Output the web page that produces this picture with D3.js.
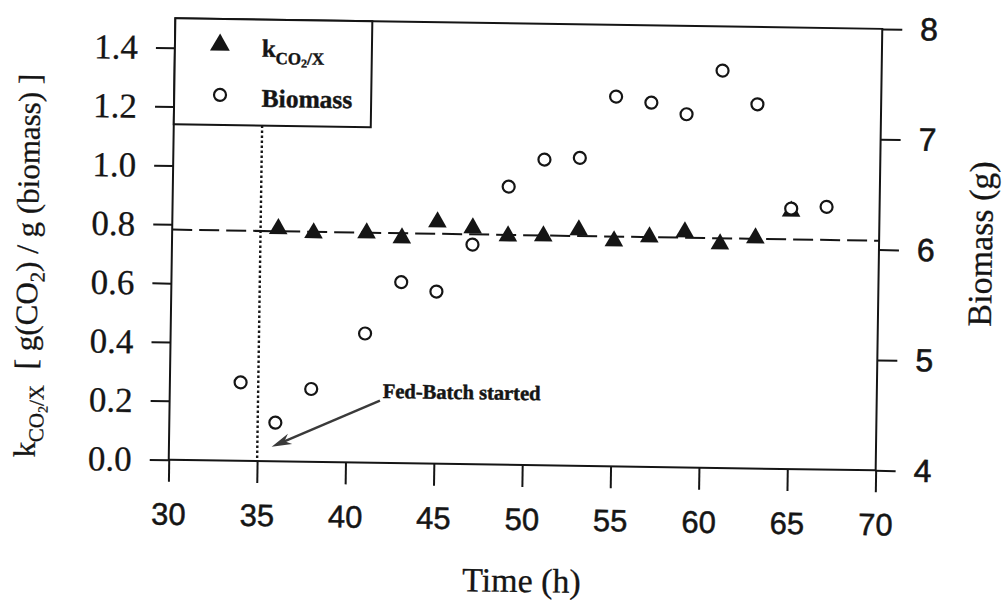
<!DOCTYPE html>
<html><head><meta charset="utf-8">
<script src="https://cdn.jsdelivr.net/npm/d3@7"></script>
<style>body{margin:0;background:#fff}</style>
</head><body><svg id="c" width="1007" height="600"></svg>
<script>
// ---- data ----
const kTimes = [36, 38, 41, 43, 45, 47, 49, 51, 53, 55, 57, 59, 61, 63, 65];
const kValues = [0.790, 0.778, 0.780, 0.765, 0.821, 0.803, 0.777, 0.779, 0.801, 0.766, 0.781, 0.800, 0.761, 0.783, 0.876];
const biomassTimes = [34, 36, 38, 41, 43, 45, 47, 49, 51, 53, 55, 57, 59, 61, 63, 65, 67];
const biomassValues = [4.71, 4.35, 4.66, 5.17, 5.64, 5.56, 5.99, 6.52, 6.77, 6.79, 7.35, 7.30, 7.20, 7.60, 7.30, 6.36, 6.38];
const trendTimes = [30, 70];
const trendValues = [0.782, 0.780];
const fedBatchTime = 35;
const xTicks = [30, 35, 40, 45, 50, 55, 60, 65, 70];
const yLeftTicks = [0, 0.2, 0.4, 0.6, 0.8, 1.0, 1.2, 1.4];
const yRightTicks = [4, 5, 6, 7, 8];

const ink = "#151515";
const serif = "'Liberation Serif','Times New Roman',serif";
const sans = "'Liberation Sans',Arial,sans-serif";

const svg = d3.select("#c");
svg.append("rect").attr("width", 1007).attr("height", 600).attr("fill", "#fff");
// the scanned figure is slightly rotated
const g = svg.append("g").attr("transform", "rotate(0.86 522 245)");

const L = 172, R = 879, T = 23.5, B = 465;
const x = d3.scaleLinear().domain([30, 70]).range([L, R]);
const yL = d3.scaleLinear().domain([0, 1.5]).range([B, T]);
const yR = d3.scaleLinear().domain([4, 8]).range([B, T]);

function styleAxis(sel, family, size, sw) {
  sel.select(".domain").remove();
  sel.attr("font-family", family).attr("font-size", size);
  sel.selectAll(".tick line").attr("stroke", ink).attr("stroke-width", 2);
  sel.selectAll(".tick text").attr("fill", ink).attr("stroke", ink).attr("stroke-width", sw);
}

// axes
g.append("g").attr("transform", `translate(${L},0)`)
  .call(d3.axisLeft(yL).tickValues(yLeftTicks).tickSize(19).tickSizeOuter(0).tickPadding(18).tickFormat(d3.format(".1f")))
  .call(s => styleAxis(s, serif, 35, 0.3));
g.append("g").attr("transform", `translate(${R},0)`)
  .call(d3.axisRight(yR).tickValues(yRightTicks).tickSize(20).tickSizeOuter(0).tickPadding(18).tickFormat(d3.format("d")))
  .call(s => styleAxis(s, sans, 32, 0.6));
g.append("g").attr("transform", `translate(0,${B})`)
  .call(d3.axisBottom(x).tickValues(xTicks).tickSize(22).tickSizeOuter(0).tickPadding(21).tickFormat(d3.format("d")))
  .call(s => styleAxis(s, sans, 31, 0.5));

// frame
g.append("rect").attr("x", L).attr("y", T).attr("width", R - L).attr("height", B - T)
  .attr("fill", "none").attr("stroke", ink).attr("stroke-width", 2);

// legend box bounds
const legW = 197, legH = 106;

// fed-batch dotted line
g.append("line").attr("x1", x(fedBatchTime)).attr("x2", x(fedBatchTime))
  .attr("y1", T + legH).attr("y2", B)
  .attr("stroke", ink).attr("stroke-width", 2.4).attr("stroke-dasharray", "2.4,2.6");

// trend dashed line
g.append("path").datum(trendTimes.map((t, i) => [t, trendValues[i]]))
  .attr("d", d3.line().x(d => x(d[0])).y(d => yL(d[1])))
  .attr("fill", "none").attr("stroke", ink).attr("stroke-width", 2).attr("stroke-dasharray", "20,7");

// triangles
const tri = d3.symbol().type(d3.symbolTriangle).size(150);
g.append("g").selectAll("path").data(kTimes.map((t, i) => [t, kValues[i]])).join("path")
  .attr("d", tri).attr("transform", d => `translate(${x(d[0])},${yL(d[1])})`)
  .attr("fill", ink);

// circles
g.append("g").selectAll("circle").data(biomassTimes.map((t, i) => [t, biomassValues[i]])).join("circle")
  .attr("cx", d => x(d[0])).attr("cy", d => yR(d[1])).attr("r", 6)
  .attr("fill", "#fff").attr("stroke", ink).attr("stroke-width", 2.2);

// legend
g.append("rect").attr("x", L).attr("y", T).attr("width", legW).attr("height", legH)
  .attr("fill", "#fff").attr("stroke", ink).attr("stroke-width", 2);
g.append("path").attr("d", d3.symbol().type(d3.symbolTriangle).size(170)).attr("transform", "translate(217,49.5)").attr("fill", ink);
g.append("circle").attr("cx", 217.8).attr("cy", 99.5).attr("r", 6).attr("fill", "#fff").attr("stroke", ink).attr("stroke-width", 2.2);
const lk = g.append("text").attr("x", 259).attr("y", 60.8).attr("font-family", serif).attr("font-weight", "bold")
  .attr("font-size", 25).attr("fill", ink).attr("stroke", ink).attr("stroke-width", 0.4);
lk.append("tspan").text("k");
lk.append("tspan").attr("font-size", 17).attr("dy", 7).text("CO");
lk.append("tspan").attr("font-size", 12).attr("dy", 3).text("2");
lk.append("tspan").attr("font-size", 17).attr("dy", -3).text("/X");
g.append("text").attr("x", 259.5).attr("y", 110.8).attr("font-family", serif).attr("font-weight", "bold")
  .attr("font-size", 25.5).attr("fill", ink).attr("stroke", ink).attr("stroke-width", 0.4).text("Biomass");

// annotation
g.append("text").attr("x", 385).attr("y", 400).attr("font-family", serif).attr("font-weight", "bold")
  .attr("font-size", 20.5).attr("fill", ink).attr("stroke", ink).attr("stroke-width", 0.5).text("Fed-Batch started");
const ax0 = 382.3, ay0 = 402.8, ax1 = 274.7, ay1 = 450.4;
g.append("line").attr("x1", ax0).attr("y1", ay0).attr("x2", ax1 + 12).attr("y2", ay1 - 5.3)
  .attr("stroke", "#3a3a3a").attr("stroke-width", 2.4);
{
  const ang = Math.atan2(ay1 - ay0, ax1 - ax0);
  const len = 20, hw = 5.5;
  const ux = Math.cos(ang), uy = Math.sin(ang);
  const bx = ax1 - ux * len, by = ay1 - uy * len;
  const nx = -uy, ny = ux;
  const notchX = ax1 - ux * len * 0.7, notchY = ay1 - uy * len * 0.7;
  g.append("path").attr("d", `M${ax1},${ay1}L${bx + nx * hw},${by + ny * hw}L${notchX},${notchY}L${bx - nx * hw},${by - ny * hw}Z`)
    .attr("fill", "#3a3a3a");
}

// axis titles
g.append("text").attr("x", (L + R) / 2 + 1).attr("y", 592).attr("text-anchor", "middle")
  .attr("font-family", serif).attr("font-size", 34).attr("fill", ink).attr("stroke", ink).attr("stroke-width", 0.3).text("Time (h)");
g.append("text").attr("transform", "translate(992,237) rotate(-90)").attr("text-anchor", "middle")
  .attr("font-family", serif).attr("font-size", 34).attr("fill", ink).attr("stroke", ink).attr("stroke-width", 0.3).text("Biomass (g)");
const yt = g.append("text").attr("transform", "translate(38,273) rotate(-90)").attr("text-anchor", "middle")
  .attr("font-family", serif).attr("font-size", 31).attr("fill", ink).attr("stroke", ink).attr("stroke-width", 0.3);
yt.append("tspan").text("k");
yt.append("tspan").attr("font-size", 21).attr("dy", 8).text("CO");
yt.append("tspan").attr("font-size", 14).attr("dy", 4).text("2");
yt.append("tspan").attr("font-size", 21).attr("dy", -4).text("/X");
yt.append("tspan").attr("dy", -8).text("\u00a0 [ g(CO");
yt.append("tspan").attr("font-size", 21).attr("dy", 7).text("2");
yt.append("tspan").attr("dy", -7).text(") / g (biomass) ]");
</script>
</body></html>
